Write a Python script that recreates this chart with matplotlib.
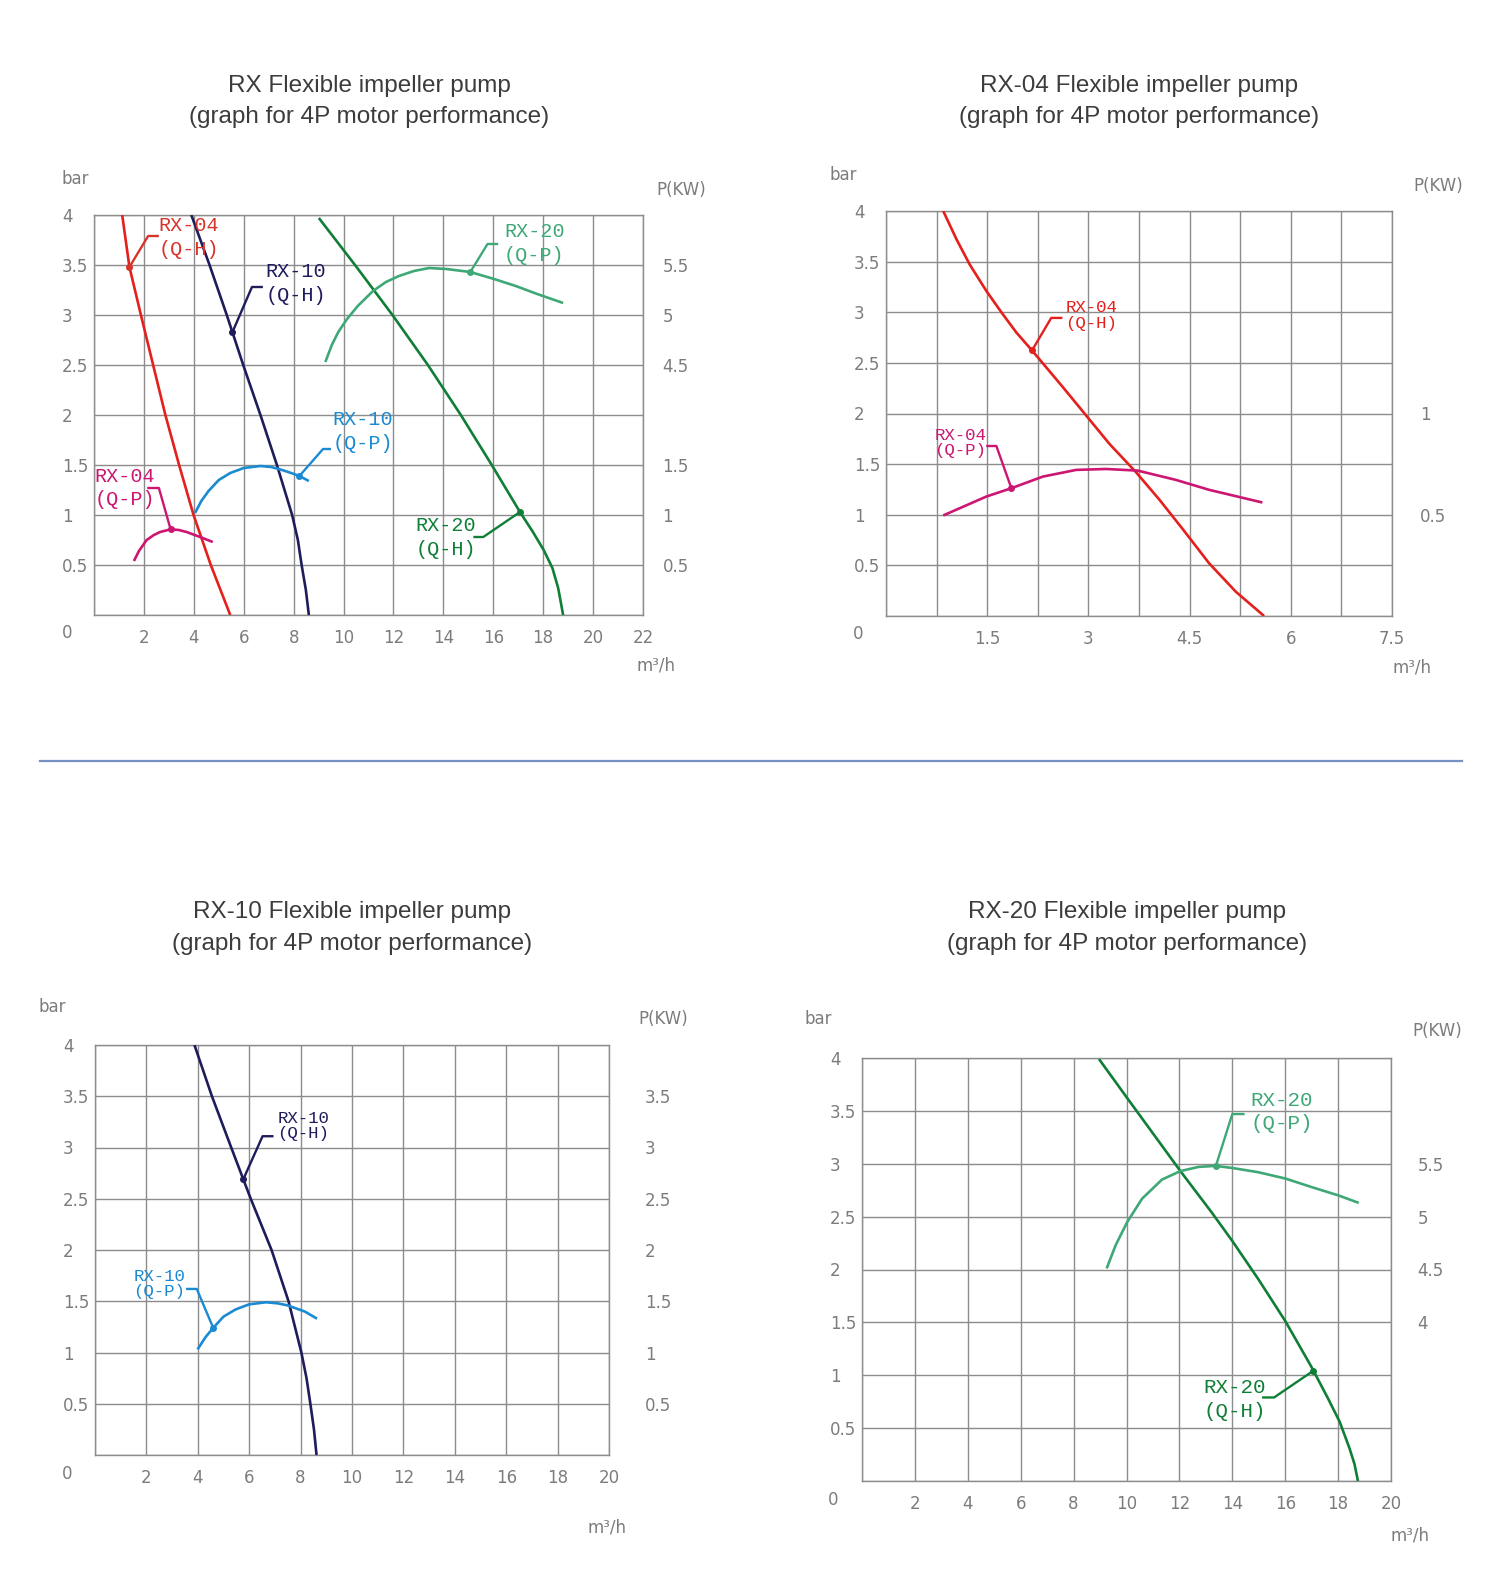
import numpy as np
import matplotlib.pyplot as plt
from matplotlib import font_manager
from matplotlib.ticker import MultipleLocator

# ── figure geometry (pixels) ───────────────────────────────────────────────
W, H = 1500, 1574
fig = plt.figure(figsize=(W / 100, H / 100), dpi=100)

names = {f.name for f in font_manager.fontManager.ttflist}
TICK_FONT = "Liberation Sans Narrow" if "Liberation Sans Narrow" in names else "DejaVu Sans"
TICK_SIZE = 13.5 if TICK_FONT != "DejaVu Sans" else 12
NOTE_FONT = "Liberation Mono"
GRAY = "#7c7c7c"
GRID = "#8c8c8c"

RED = "#e41f1c"
MAGENTA = "#cc1672"
NAVY = "#1f1c5c"
BLUE = "#1a8ad2"
DKGREEN = "#0f7e36"
LTGREEN = "#3ea876"

# ── data: panel 1 (all models, Q in m3/h, H in bar) ───────────────────────
p1_rx04_qh_x = [1.13, 1.42, 1.88, 2.37, 2.86, 3.41, 3.99, 4.68, 5.46]
p1_rx04_qh_y = [4.00, 3.48, 3.00, 2.50, 2.00, 1.50, 1.00, 0.50, 0.00]
p1_rx04_qp_x = [1.60, 1.80, 2.11, 2.40, 2.65, 3.07, 3.40, 3.71, 4.25, 4.76]
p1_rx04_qp_y = [0.54, 0.64, 0.75, 0.80, 0.83, 0.857, 0.85, 0.83, 0.78, 0.73]
p1_rx10_qh_x = [3.90, 4.63, 5.32, 5.98, 6.67, 7.33, 7.94, 8.17, 8.32, 8.49, 8.61]
p1_rx10_qh_y = [4.00, 3.50, 3.00, 2.50, 2.00, 1.50, 1.00, 0.75, 0.50, 0.25, 0.00]
p1_rx10_qp_x = [4.05, 4.30, 4.59, 5.00, 5.46, 6.00, 6.67, 7.10, 7.54, 7.90, 8.23, 8.61]
p1_rx10_qp_y = [1.02, 1.14, 1.24, 1.35, 1.42, 1.47, 1.49, 1.48, 1.45, 1.42, 1.39, 1.34]
p1_rx20_qh_x = [9.01, 10.46, 11.96, 13.38, 14.70, 15.94, 17.07, 17.59, 18.02, 18.37, 18.60, 18.80]
p1_rx20_qh_y = [3.97, 3.50, 3.00, 2.50, 2.00, 1.50, 1.03, 0.83, 0.65, 0.47, 0.27, 0.00]
p1_rx20_qp_x = [9.27, 9.53, 9.79, 10.14, 10.57, 11.18, 11.70, 12.22, 12.82, 13.43, 14.12,
                15.08, 16.03, 16.90, 17.76, 18.80]
p1_rx20_qp_y = [2.53, 2.70, 2.83, 2.96, 3.09, 3.24, 3.33, 3.39, 3.44, 3.47, 3.46,
                3.43, 3.36, 3.29, 3.21, 3.12]

# ── data: panel 2 (RX-04) ─────────────────────────────────────────────────
p2_qh_x = [0.848, 1.045, 1.242, 1.488, 1.710, 1.932, 2.164, 2.622, 2.967, 3.312,
           3.706, 4.051, 4.396, 4.790, 5.185, 5.604]
p2_qh_y = [4.000, 3.720, 3.470, 3.210, 3.000, 2.800, 2.623, 2.260, 1.980, 1.700,
           1.420, 1.150, 0.860, 0.520, 0.240, 0.000]
p2_qp_x = [0.848, 1.488, 1.858, 2.326, 2.819, 3.263, 3.731, 4.298, 4.790, 5.579]
p2_qp_y = [0.993, 1.180, 1.262, 1.377, 1.443, 1.452, 1.436, 1.344, 1.246, 1.121]

# ── data: panel 3 (RX-10) ─────────────────────────────────────────────────
p3_qh_x = [3.87, 4.55, 5.30, 5.77, 6.06, 6.87, 7.53, 8.03, 8.23, 8.38, 8.52, 8.62]
p3_qh_y = [4.00, 3.50, 3.00, 2.69, 2.50, 2.00, 1.50, 1.00, 0.75, 0.50, 0.25, 0.00]
p3_qp_x = [3.99, 4.30, 4.60, 5.00, 5.47, 6.00, 6.65, 7.10, 7.49, 8.16, 8.64]
p3_qp_y = [1.03, 1.15, 1.24, 1.35, 1.42, 1.47, 1.49, 1.48, 1.46, 1.40, 1.33]

# ── data: panel 4 (RX-20) ─────────────────────────────────────────────────
p4_qh_x = [8.96, 10.03, 12.04, 13.22, 14.00, 14.98, 16.01, 16.99, 17.62, 18.06, 18.43, 18.62, 18.75]
p4_qh_y = [3.99, 3.62, 2.93, 2.54, 2.27, 1.91, 1.51, 1.08, 0.78, 0.56, 0.31, 0.16, 0.00]
p4_qp_x = [9.25, 9.59, 10.03, 10.59, 11.34, 12.03, 12.72, 13.35, 14.00, 14.98, 16.01, 16.99, 18.02, 18.78]
p4_qp_y = [2.01, 2.23, 2.45, 2.67, 2.85, 2.93, 2.97, 2.98, 2.96, 2.92, 2.86, 2.78, 2.70, 2.63]

# right-hand P(KW) labels, placed at left-axis heights
p1_right_pos = [3.5, 3.0, 2.5, 1.5, 1.0, 0.5]
p1_right_lab = ["5.5", "5", "4.5", "1.5", "1", "0.5"]
p2_right_pos = [2.0, 1.0]
p2_right_lab = ["1", "0.5"]
p3_right_pos = [3.5, 3.0, 2.5, 2.0, 1.5, 1.0, 0.5]
p3_right_lab = ["3.5", "3", "2.5", "2", "1.5", "1", "0.5"]
p4_right_pos = [3.0, 2.5, 2.0, 1.5]
p4_right_lab = ["5.5", "5", "4.5", "4"]

y_ticks = [0.5, 1.0, 1.5, 2.0, 2.5, 3.0, 3.5, 4.0]
y_labels = ["0.5", "1", "1.5", "2", "2.5", "3", "3.5", "4"]
x_ticks_22 = [2, 4, 6, 8, 10, 12, 14, 16, 18, 20, 22]
x_ticks_20 = [2, 4, 6, 8, 10, 12, 14, 16, 18, 20]
x_ticks_75 = [1.5, 3, 4.5, 6, 7.5]


def fx(px):
    return px / W


def fy(py):
    return 1 - py / H


def panel(box, title, title_xy, xmax, xstep, xticks, rpos, rlab, rpad,
          bar_xy, pkw_xy, unit_xy, zero_xy):
    l, t, r, b = box
    ax = fig.add_axes([fx(l), fy(b), (r - l) / W, (b - t) / H])
    ax.set_xlim(0, xmax)
    ax.set_ylim(0, 4)
    ax.set_xticks(xticks, [f"{v:g}" for v in xticks])
    ax.set_yticks(y_ticks, y_labels)
    ax.xaxis.set_minor_locator(MultipleLocator(xstep))
    ax.yaxis.set_minor_locator(MultipleLocator(0.5))
    ax.grid(which="both", color=GRID, lw=1.0)
    ax.tick_params(which="both", length=0)
    ax.tick_params(axis="x", pad=10, labelcolor=GRAY, labelsize=TICK_SIZE)
    ax.tick_params(axis="y", pad=23, labelcolor=GRAY, labelsize=TICK_SIZE)
    for lab in ax.get_xticklabels() + ax.get_yticklabels():
        lab.set_family(TICK_FONT)
    for lab in ax.get_yticklabels():
        lab.set_ha("left")
    for s in ax.spines.values():
        s.set_color(GRID)
        s.set_lw(1.0)
    ax.set_axisbelow(True)

    tw = ax.twinx()
    tw.set_ylim(0, 4)
    tw.set_yticks(rpos, rlab)
    tw.tick_params(length=0, pad=rpad, labelcolor=GRAY, labelsize=TICK_SIZE)
    for lab in tw.get_yticklabels():
        lab.set_family(TICK_FONT)
    for s in tw.spines.values():
        s.set_visible(False)

    fig.text(fx(title_xy[0]), fy(title_xy[1]), title, ha="center", va="center",
             fontsize=17.5, family="Liberation Sans", color="#3c3c3c", linespacing=1.55)
    for txt, (px, py) in (("bar", bar_xy), ("P(KW)", pkw_xy), ("m³/h", unit_xy), ("0", zero_xy)):
        fig.text(fx(px), fy(py), txt, ha="center", va="center", color=GRAY,
                 fontsize=TICK_SIZE, family=TICK_FONT)
    return ax


def curve(ax, xs, ys, color):
    ax.plot(xs, ys, color=color, lw=1.9, solid_capstyle="butt",
            solid_joinstyle="round", zorder=3)


def note(ax, pts, txy, name, kind, color, fs, ls):
    xs = [p[0] for p in pts]
    ys = [p[1] for p in pts]
    ax.plot(xs, ys, color=color, lw=1.7, zorder=4)
    ax.plot(xs[0], ys[0], "o", ms=4, color=color, zorder=4)
    ax.text(txy[0], txy[1], f"{name}\n({kind})", color=color, fontsize=fs,
            family=NOTE_FONT, ha="center", va="center", linespacing=ls, zorder=5)


# ── panel 1: all models ───────────────────────────────────────────────────
ax1 = panel((94, 215, 643, 615), "RX Flexible impeller pump\n(graph for 4P motor performance)",
            (369, 101.5), 22, 2, x_ticks_22, p1_right_pos, p1_right_lab, 14,
            (75, 179), (681, 190), (656, 666), (67, 633))
curve(ax1, p1_rx04_qh_x, p1_rx04_qh_y, RED)
curve(ax1, p1_rx04_qp_x, p1_rx04_qp_y, MAGENTA)
curve(ax1, p1_rx10_qh_x, p1_rx10_qh_y, NAVY)
curve(ax1, p1_rx10_qp_x, p1_rx10_qp_y, BLUE)
curve(ax1, p1_rx20_qh_x, p1_rx20_qh_y, DKGREEN)
curve(ax1, p1_rx20_qp_x, p1_rx20_qp_y, LTGREEN)
note(ax1, [(1.42, 3.48), (2.17, 3.79), (2.55, 3.79)], (3.81, 3.775), "RX-04", "Q-H", "#d8342a", 14.5, 1.3)
note(ax1, [(5.55, 2.83), (6.33, 3.28), (6.72, 3.28)], (8.10, 3.315), "RX-10", "Q-H", NAVY, 14.5, 1.3)
note(ax1, [(15.08, 3.43), (15.77, 3.71), (16.15, 3.71)], (17.64, 3.715), "RX-20", "Q-P", LTGREEN, 14.5, 1.3)
note(ax1, [(8.23, 1.39), (9.18, 1.66), (9.45, 1.66)], (10.78, 1.835), "RX-10", "Q-P", BLUE, 14.5, 1.3)
note(ax1, [(3.07, 0.857), (2.60, 1.27), (2.18, 1.27)], (1.24, 1.27), "RX-04", "Q-P", MAGENTA, 14.5, 1.3)
note(ax1, [(17.07, 1.03), (15.60, 0.78), (15.25, 0.78)], (14.11, 0.775), "RX-20", "Q-H", DKGREEN, 14.5, 1.3)

# ── panel 2: RX-04 ────────────────────────────────────────────────────────
ax2 = panel((886, 211, 1392, 616), "RX-04 Flexible impeller pump\n(graph for 4P motor performance)",
            (1139.5, 101.5), 7.5, 0.75, x_ticks_75, p2_right_pos, p2_right_lab, 20,
            (843, 175), (1438, 186), (1412, 668), (858, 634))
curve(ax2, p2_qh_x, p2_qh_y, RED)
curve(ax2, p2_qp_x, p2_qp_y, MAGENTA)
note(ax2, [(2.164, 2.623), (2.449, 2.944), (2.597, 2.944)], (3.04, 2.97), "RX-04", "Q-H", RED, 12.5, 1.05)
note(ax2, [(1.858, 1.262), (1.636, 1.679), (1.503, 1.679)], (1.10, 1.71), "RX-04", "Q-P", MAGENTA, 12.5, 1.05)

# ── panel 3: RX-10 ────────────────────────────────────────────────────────
ax3 = panel((95, 1045, 609, 1455), "RX-10 Flexible impeller pump\n(graph for 4P motor performance)",
            (352.5, 928), 20, 2, x_ticks_20, p3_right_pos, p3_right_lab, 26,
            (52, 1007), (663, 1019), (607, 1527), (67, 1474))
curve(ax3, p3_qh_x, p3_qh_y, NAVY)
curve(ax3, p3_qp_x, p3_qp_y, BLUE)
note(ax3, [(5.77, 2.69), (6.52, 3.11), (6.90, 3.11)], (8.11, 3.21), "RX-10", "Q-H", NAVY, 12.5, 1.05)
note(ax3, [(4.60, 1.24), (3.96, 1.62), (3.59, 1.62)], (2.51, 1.67), "RX-10", "Q-P", BLUE, 12.5, 1.05)

# ── panel 4: RX-20 ────────────────────────────────────────────────────────
ax4 = panel((862, 1058, 1391, 1481), "RX-20 Flexible impeller pump\n(graph for 4P motor performance)",
            (1127.5, 928), 20, 2, x_ticks_20, p4_right_pos, p4_right_lab, 19,
            (818, 1019), (1437, 1031), (1410, 1535), (833, 1500))
curve(ax4, p4_qh_x, p4_qh_y, DKGREEN)
curve(ax4, p4_qp_x, p4_qp_y, LTGREEN)
note(ax4, [(13.38, 2.98), (14.00, 3.47), (14.42, 3.47)], (15.88, 3.49), "RX-20", "Q-P", LTGREEN, 15, 1.3)
note(ax4, [(17.05, 1.04), (15.58, 0.79), (15.17, 0.79)], (14.08, 0.77), "RX-20", "Q-H", DKGREEN, 15, 1.3)

# separator between the two rows
fig.add_artist(plt.Line2D([fx(40), fx(1462)], [fy(761), fy(761)], color="#7591c2", lw=1.6))

fig.savefig("out.png", dpi=100, facecolor="white")
